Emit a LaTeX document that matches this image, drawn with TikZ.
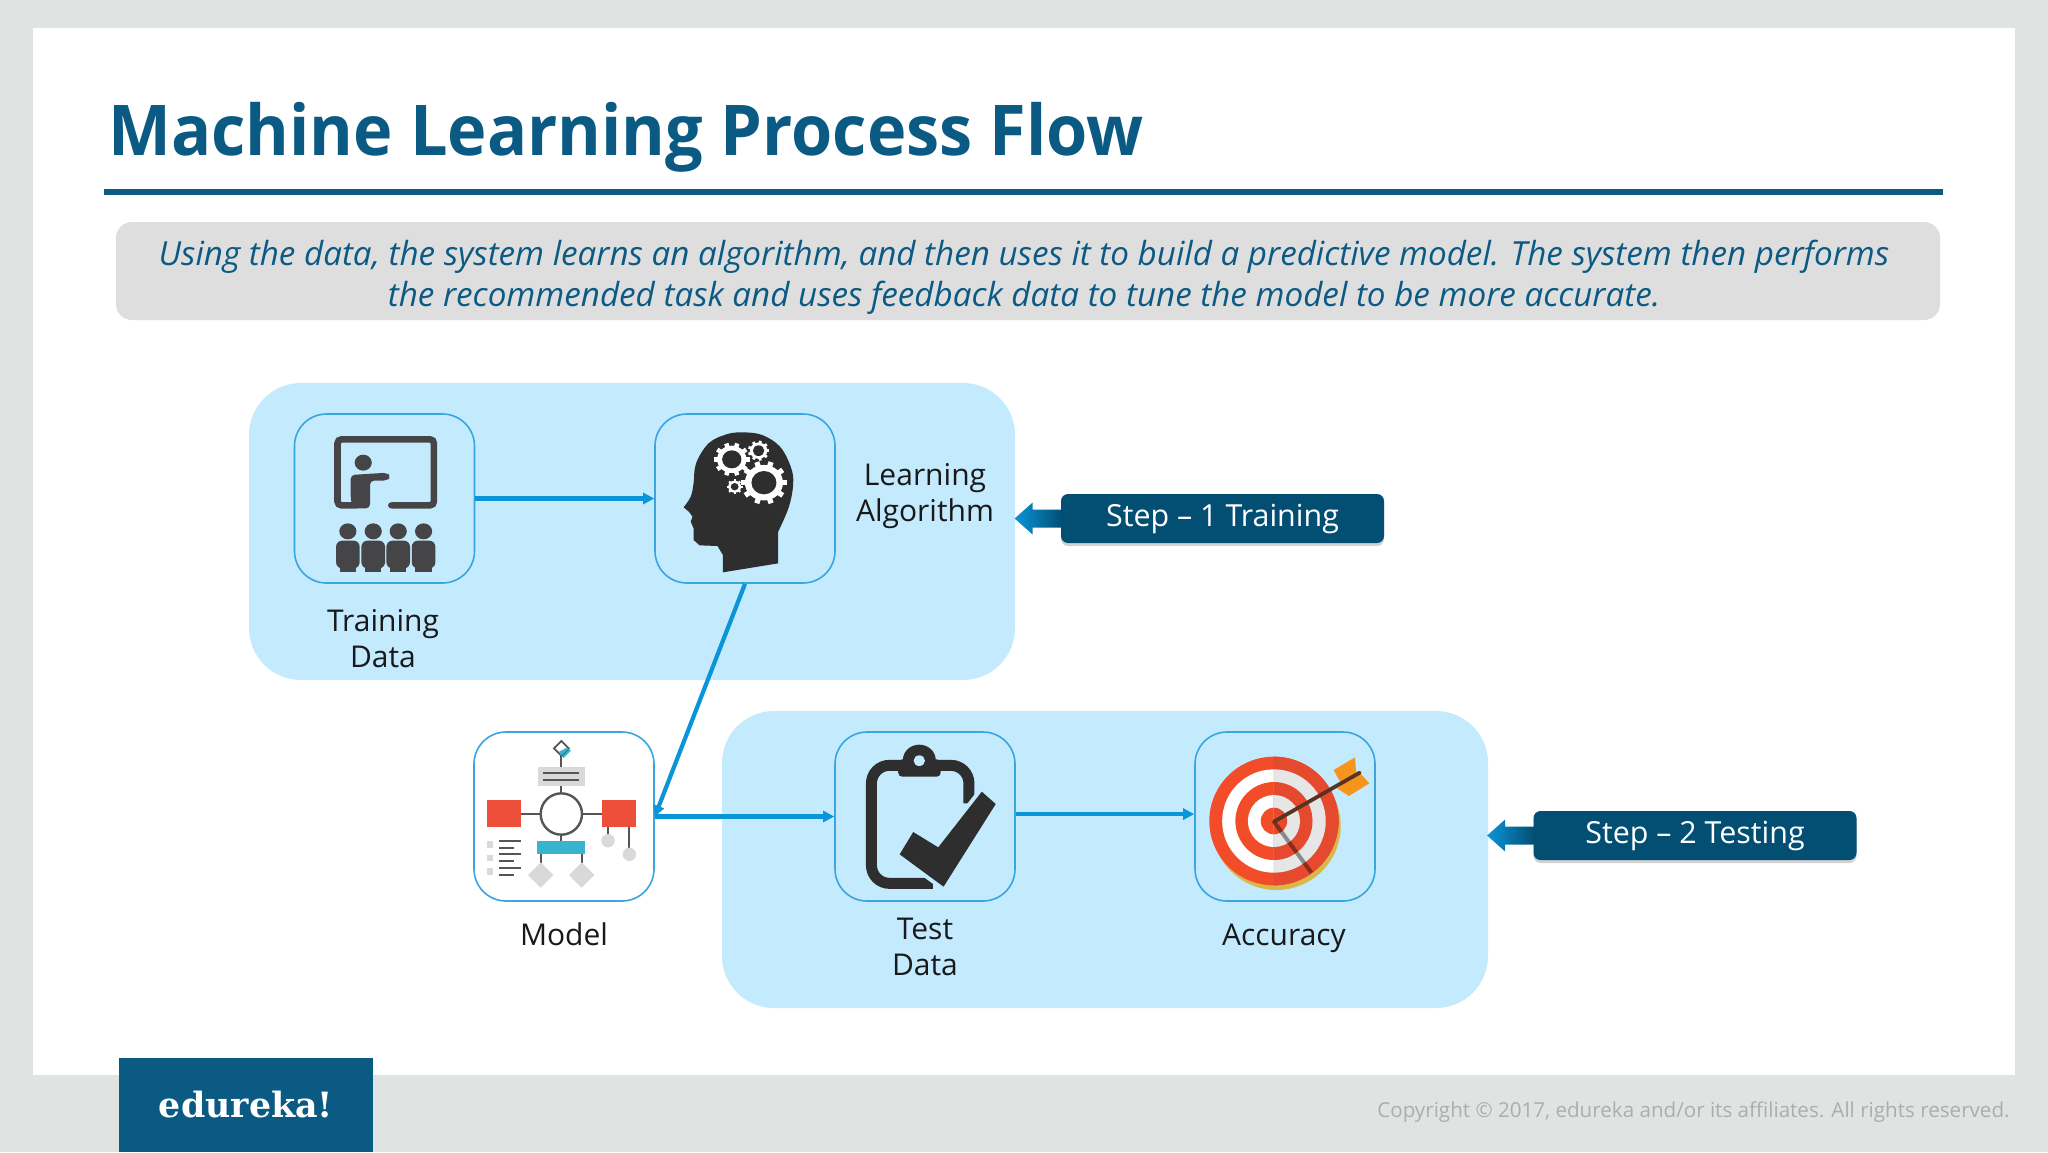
\documentclass[tikz,border=0pt]{standalone}
\usepackage{fontspec}
\setmainfont{Open Sans}
\newfontfamily\logofont{DejaVu Serif}
\usetikzlibrary{arrows.meta,shadows,positioning}
\definecolor{pagegrey}{HTML}{DFE4E3}
\definecolor{titleblue}{HTML}{0B5A84}
\definecolor{descgrey}{HTML}{DEDEDF}
\definecolor{panelblue}{HTML}{C4EAFE}
\definecolor{boxline}{HTML}{3AA5DE}
\definecolor{linkblue}{HTML}{0A95D8}
\definecolor{stepblue}{HTML}{024F73}
\definecolor{icondark}{HTML}{2E2E2E}
\definecolor{iconslate}{HTML}{454547}
\definecolor{modelline}{HTML}{555555}
\definecolor{modelgrey}{HTML}{D9D9D9}
\definecolor{modelred}{HTML}{EE4F3A}
\definecolor{modelteal}{HTML}{3AB3CD}
\definecolor{tgtred}{HTML}{F24C28}
\definecolor{tgtreddark}{HTML}{E64A2E}
\definecolor{tgtgrey}{HTML}{E6E6E6}
\definecolor{tgtgold}{HTML}{D9B74A}
\definecolor{fletch}{HTML}{F7941D}
\definecolor{shaftbrown}{HTML}{5A3320}
\tikzset{
  panelbox/.style={fill=panelblue,rounded corners=26pt,minimum width=383pt,minimum height=148.5pt,inner sep=0pt},
  iconbox/.style={draw=boxline,line width=.8pt,rounded corners=16pt,minimum width=90pt,minimum height=84.5pt,inner sep=0pt},
  link/.style={draw=linkblue,line width=2.1pt,-{Triangle[length=5.5pt,width=5.5pt]}},
  caption/.style={font=\fontsize{15}{18}\selectfont,align=center,text=black!90,inner sep=0pt},
  stepbox/.style={fill=stepblue,text=white,rounded corners=3.5pt,minimum width=161.5pt,minimum height=24.5pt,inner sep=0pt,font=\fontsize{15.2}{18}\selectfont,drop shadow={shadow xshift=0pt,shadow yshift=-1.5pt,opacity=.35}},
  zoomA/.style={x=.17857pt,y=-.16667pt},
  zoomB/.style={x=.16667pt,y=-.16667pt},
  mline/.style={draw=modelline,line width=1.1pt},
}
\newcommand{\mygear}[6]{% x y R hole n toothwidth
  \foreach \a in {1,...,#5}{\draw[white,line width=#6] (#1,#2) -- ++({\a*360/#5}:#3);}
  \fill[white] (#1,#2) circle ({.82*#3});
  \fill[icondark] (#1,#2) circle (#4);
}
\newcommand{\mybadge}[1]{%
  \path[left color=linkblue,right color=stepblue,shading angle=90]
    (#1.west) ++(1,-9) -- ++(-29,0) -- ++(0,-7) -- ++(-18,16) -- ++(18,16) -- ++(0,-7) -- ++(29,0) -- cycle;
}
\begin{document}
\begin{tikzpicture}[x=.5pt,y=-.5pt]
\useasboundingbox (0,0) rectangle (2048,1152);
\fill[pagegrey] (0,0) rectangle (2048,1152);
\fill[white] (33,28) rectangle (2015,1075);
% title
\node[anchor=base west,inner sep=0pt,text=titleblue,font=\fontsize{35}{40}\selectfont\bfseries] (title) at (108,155) {\scalebox{.952}[1]{Machine Learning Process Flow}};
\fill[titleblue] (104,189) rectangle (1943,195);
% description
\node[fill=descgrey,rounded corners=8pt,minimum width=912pt,minimum height=49pt,inner sep=0pt] (desc) at (1028,271) {};
\node[inner sep=0pt,align=center,text=titleblue,font=\fontsize{16.6}{20.5}\selectfont\itshape] (desctext) at (1024,277)
  {Using the data, the system learns an algorithm, and then uses it to build a predictive model. The system then performs\\the recommended task and uses feedback data to tune the model to be more accurate.};
% panels
\node[panelbox] (panelone) at (632,531.5) {};
\node[panelbox] (paneltwo) at (1105,859.5) {};
% boxes
\node[iconbox] (train) at (384.5,498.5) {};
\node[iconbox] (brain) at (745,498.5) {};
\node[iconbox,fill=white] (model) at (564,816.5) {};
\node[iconbox] (test) at (925,816.5) {};
\node[iconbox] (acc) at (1285,816.5) {};
% connectors
\draw[link] (train.east) -- (brain.west);
\draw[link] (brain.south) -- (model.east);
\draw[link] (model.east) -- (test.west);
\draw[link] ([yshift=1.2pt]test.east) -- ([yshift=1.2pt]acc.west);
% captions
\node[caption] (traincap) at (383,638.5) {Training\\Data};
\node[caption] (braincap) at (925,496) {Learning\\Algorithm};
\node[caption] (modelcap) at (564,934) {Model};
\node[caption] (testcap) at (925,947) {Test\\Data};
\node[caption] (acccap) at (1284,938) {Accuracy};
% step badges
\node[stepbox] (stepone) at (1222.5,518.5) {\raisebox{-1.5pt}{Step -- 1 Training}};
\node[stepbox] (steptwo) at (1695,835.5) {\raisebox{-1.5pt}{Step -- 2 Testing}};
\mybadge{stepone}
\mybadge{steptwo}
% training icon
\begin{scope}[shift={(280,400)},zoomA]
  \draw[iconslate,line width=3.3pt,rounded corners=2pt] (215,316) -- (161,316) -- (161,118) -- (431,118) -- (431,316) -- (314,316);
  \fill[iconslate] (312,316) circle (9.5);
  \fill[iconslate] (233,188) circle (24);
  \fill[iconslate,rounded corners=2pt] (198,225) -- (300,218) -- (310,230) -- (300,242) -- (252,242) -- (252,325) -- (205,325) -- (198,300) -- cycle;
  \foreach \px in {190,261,331,402}{
    \fill[iconslate] (\px,394) circle (24);
    \fill[iconslate,rounded corners=3pt] (\px-33,422) rectangle (\px+33,505);
    \fill[iconslate] (\px-23,500) rectangle (\px+23,515);
  }
  % head
  \fill[icondark] plot[smooth,tension=.6] coordinates {(1130,322)(1150,290)(1158,250)(1165,190)(1200,130)(1250,103)(1295,97)(1350,105)(1400,140)(1430,200)(1437,250)(1425,320)(1395,395)} -- (1395,490) -- (1240,517) -- (1240,465) -- (1225,438) -- (1175,436) -- (1158,420) -- (1158,385) -- (1150,365) -- (1155,350) -- (1145,335) -- cycle;
  \mygear{1355}{248}{65}{35}{10}{2.6pt}
  \mygear{1265}{178}{50}{27}{10}{2.2pt}
  \mygear{1340}{152}{30}{16}{9}{1.4pt}
  \mygear{1273}{260}{22}{11}{8}{1.1pt}
\end{scope}
% model icon
\begin{scope}[shift={(470,720)},zoomB]
  \draw[mline] (274,100) -- (274,140);
  \draw[mline] (274,198) -- (274,220);
  \draw[mline] (274,344) -- (274,362);
  \fill[modelteal] (281,78) -- (303,92) -- (281,114) -- (259,92) -- cycle;
  \draw[modelline,fill=white,line width=.9pt] (274,63) -- (296,85) -- (274,107) -- (252,85) -- cycle;
  \fill[modelteal] (288,84) -- (296,85) -- (274,107) -- (266,96) -- cycle;
  \fill[modelgrey] (203,140) rectangle (345,198);
  \draw[mline] (218,160) -- (327,160);
  \draw[mline] (218,180) -- (327,180);
  \draw[mline] (152,282) -- (395,282);
  \draw[modelline,fill=white,line width=1.2pt] (274,282) circle (62);
  \fill[modelred] (50,241) rectangle (152,322);
  \fill[modelred] (395,241) rectangle (497,322);
  \draw[mline] (212,402) -- (212,430);
  \draw[mline] (335,402) -- (335,430);
  \fill[modelteal] (201,362) rectangle (345,402);
  \fill[modelgrey] (212,427) -- (250,465) -- (212,503) -- (174,465) -- cycle;
  \fill[modelgrey] (335,427) -- (373,465) -- (335,503) -- (297,465) -- cycle;
  \draw[mline] (414,322) -- (414,345);
  \draw[mline] (478,322) -- (478,385);
  \fill[modelgrey] (414,362) circle (20);
  \fill[modelgrey] (478,403) circle (20);
  \foreach \py in {374,414,454}{\fill[modelgrey] (50,\py-10) rectangle (70,\py+10);}
  \foreach \py in {362,403,443}{\draw[mline] (88,\py) -- (154,\py);}
  \foreach \py in {383,423,464}{\draw[mline] (88,\py) -- (133,\py);}
\end{scope}
% clipboard and target icons
\begin{scope}[shift={(840,720)},zoomA]
  \draw[icondark,line width=5.5pt,rounded corners=9pt] (361,250) -- (361,136) -- (88,136) -- (88,490) -- (260,490);
  \fill[icondark] (222,120) circle (46);
  \fill[icondark,rounded corners=2pt] (163,118) rectangle (282,170);
  \fill[panelblue] (222,122) circle (16);
  \draw[panelblue,line width=4pt,line join=miter] (397,215) -- (436,252) -- (290,500) -- (167,403) -- (205,336) -- (275,382) -- cycle;
  \fill[icondark] (397,215) -- (436,252) -- (290,500) -- (167,403) -- (205,336) -- (275,382) -- cycle;
  % target
  \fill[tgtgold] (1222,318) ellipse [x radius=180,y radius=192];
  \foreach \rx/\ry/\cl in {181/193/tgtred,145/155/white,108/117/tgtred,73/78/white,37/40/tgtred}{
    \fill[\cl] (1215,303) ellipse [x radius=\rx,y radius=\ry];
  }
  \begin{scope}
    \clip (1215,90) rectangle (1420,510);
    \foreach \rx/\ry/\cl in {181/193/tgtreddark,145/155/tgtgrey,108/117/tgtreddark,73/78/tgtgrey,37/40/tgtreddark}{
      \fill[\cl] (1215,303) ellipse [x radius=\rx,y radius=\ry];
    }
  \end{scope}
  \draw[black,opacity=.4,line width=2pt] (1215,305) -- (1320,458);
  \fill[fletch] (1382,150) -- (1442,112) -- (1445,158) -- (1400,185) -- cycle;
  \fill[fletch] (1392,205) -- (1425,228) -- (1482,190) -- (1455,158) -- cycle;
  \draw[shaftbrown,line width=1.9pt,line cap=round] (1215,305) -- (1455,158);
\end{scope}
% footer
\node[fill=titleblue,minimum width=127pt,minimum height=47pt,inner sep=0pt] (logo) at (246,1105) {};
\node[text=white,font=\logofont\bfseries\fontsize{17.4}{20}\selectfont,inner sep=0pt] (logotext) at (246,1105) {edureka!};
\node[anchor=east,inner sep=0pt,text=black!32,font=\fontsize{10.3}{13}\selectfont] (copy) at (2010,1112) {Copyright © 2017, edureka and/or its affiliates. All rights reserved.};
\end{tikzpicture}
\end{document}
